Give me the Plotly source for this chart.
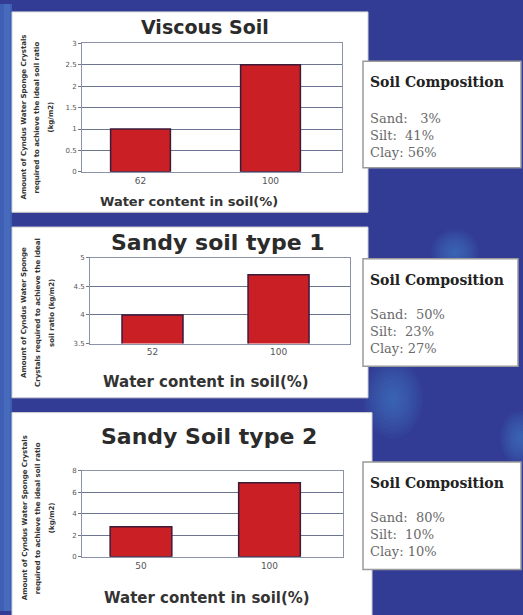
import plotly.graph_objects as go

W, H = 523, 615

# ---- data ----
titles = ["Viscous Soil", "Sandy soil type 1", "Sandy Soil type 2"]
viscous_x = ["62", "100"]
viscous_y = [1.0, 2.5]
sandy1_x = ["52", "100"]
sandy1_y = [4.0, 4.7]
sandy2_x = ["50", "100"]
sandy2_y = [2.8, 6.9]
y_ranges = [[0, 3], [3.5, 5], [0, 8]]
y_dticks = [0.5, 0.5, 2]
sand_pct = [3, 50, 80]
silt_pct = [41, 23, 10]
clay_pct = [56, 27, 10]
x_title = "Water content in soil(%)"
y_title_lines = [
    ["Amount of Cyndus Water Sponge Crystals", "required to achieve the ideal soil ratio", "(kg/m2)"],
    ["Amount of Cyndus Water Sponge", "Crystals required to achieve the ideal", "soil ratio (kg/m2)"],
    ["Amount of Cyndus Water Sponge Crystals", "required to achieve the ideal soil ratio", "(kg/m2)"],
]


def px(x):
    return x / W


def py(y):
    return 1 - y / H


fig = go.Figure()

# layout geometry (pixels)
plot_boxes = [(82, 342, 40, 170), (90, 350, 257, 344), (82, 343, 473, 560)]
x_ranges = [[-0.45, 1.55], [-0.496, 1.567], [-0.459, 1.572]]
bar_widths = [0.46, 0.484, 0.48]
xs = [viscous_x, sandy1_x, sandy2_x]
ys = [viscous_y, sandy1_y, sandy2_y]

for i in range(3):
    sfx = "" if i == 0 else str(i + 1)
    fig.add_trace(go.Bar(
        x=xs[i], y=ys[i], width=bar_widths[i],
        marker=dict(color="#c91f25", line=dict(color="#3c1a3a", width=1.5)),
        xaxis="x" + sfx, yaxis="y" + sfx, showlegend=False, hoverinfo="x+y",
    ))
    x0, x1, y0, y1 = plot_boxes[i]
    fig.layout["xaxis" + sfx] = dict(
        domain=[px(x0), px(x1)], anchor="y" + sfx, type="category",
        range=x_ranges[i], showgrid=False, zeroline=False,
        showline=True, linecolor="#8a93a8", mirror=True, linewidth=1,
        ticks="", tickfont=dict(family="DejaVu Sans", size=9, color="#555"),
        fixedrange=True,
    )
    fig.layout["yaxis" + sfx] = dict(
        domain=[py(y1), py(y0)], anchor="x" + sfx, range=y_ranges[i],
        dtick=y_dticks[i], showgrid=True, gridcolor="#6b7590", gridwidth=1,
        zeroline=False, showline=True, linecolor="#8a93a8", mirror=True,
        ticks="outside", ticklen=3, tickcolor="#777",
        tickfont=dict(family="DejaVu Sans", size=7, color="#555"),
        fixedrange=True,
    )

shapes = []
# left light strip
shapes.append(dict(type="rect", xref="paper", yref="paper", x0=0, x1=px(12), y0=0, y1=1,
                   fillcolor="#3f5fb4", line=dict(width=0), layer="below"))
shapes.append(dict(type="rect", xref="paper", yref="paper", x0=px(4), x1=px(10), y0=0, y1=1,
                   fillcolor="#4a70c0", opacity=0.7, line=dict(width=0), layer="below"))
# soft glows
for cx, cy, rx, ry in [(455, 252, 24, 24), (393, 400, 30, 40), (520, 440, 20, 28)]:
    n = 10
    for k in range(n):
        f = 1 - k / n
        shapes.append(dict(type="circle", xref="paper", yref="paper",
                           x0=px(cx - rx * f), x1=px(cx + rx * f),
                           y0=py(cy + ry * f), y1=py(cy - ry * f),
                           fillcolor="#4a8ad0", opacity=0.07, line=dict(width=0), layer="below"))
# white panels
for x0, x1, y0, y1 in [(12, 368, 8, 211), (12, 368, 226, 399), (12, 372, 414, 620)]:
    shapes.append(dict(type="rect", xref="paper", yref="paper", x0=px(x0), x1=px(x1),
                       y0=py(y1), y1=py(y0), fillcolor="white",
                       line=dict(color="#d0d0d0", width=1), layer="below"))
# composition boxes
comp_boxes = [(363, 521, 58, 166), (363, 518, 258, 367), (363, 521, 464, 573)]
for x0, x1, y0, y1 in comp_boxes:
    shapes.append(dict(type="rect", xref="paper", yref="paper", x0=px(x0), x1=px(x1),
                       y0=py(y1), y1=py(y0), fillcolor="white",
                       line=dict(color="#9a9a9a", width=1.5), layer="below"))
fig.update_layout(shapes=shapes)

ann = []
title_pos = [(205, 23, 19), (218, 242, 22), (209, 438, 22)]
xt_pos = [(189, 200, 13), (206, 383, 15), (207, 602, 15)]
yt_pos = [(115, [24, 37, 51]), (313, [24, 38, 52]), (521, [25, 38, 52])]
for i in range(3):
    tx, ty, ts = title_pos[i]
    ann.append(dict(x=px(tx), y=py(ty), xref="paper", yref="paper", text="<b>%s</b>" % titles[i],
                    showarrow=False, xanchor="center", yanchor="middle",
                    font=dict(family="DejaVu Sans", size=ts, color="#2b2b2b")))
    ax_, ay_, as_ = xt_pos[i]
    ann.append(dict(x=px(ax_), y=py(ay_), xref="paper", yref="paper", text="<b>%s</b>" % x_title,
                    showarrow=False, xanchor="center", yanchor="middle",
                    font=dict(family="DejaVu Sans", size=as_, color="#333")))
    cy, cxs = yt_pos[i]
    for line, cx in zip(y_title_lines[i], cxs):
        ann.append(dict(x=px(cx), y=py(cy), xref="paper", yref="paper", text="<b>%s</b>" % line,
                        showarrow=False, xanchor="center", yanchor="middle", textangle=-90,
                        font=dict(family="DejaVu Sans", size=7, color="#333")))

comp_text_y = [(79, 133), (280, 332), (485, 537)]
for i in range(3):
    hy, my = comp_text_y[i]
    ann.append(dict(x=px(368), y=py(hy), xref="paper", yref="paper", text="<b>Soil Composition</b>",
                    showarrow=False, xanchor="left", yanchor="middle",
                    font=dict(family="DejaVu Serif", size=14, color="#222")))
    rows = []
    for lbl, val in [("Sand:", sand_pct[i]), ("Silt:", silt_pct[i]), ("Clay:", clay_pct[i])]:
        gap = "&nbsp;" * (3 if val < 10 else 2 if lbl != "Clay:" else 1)
        rows.append("%s%s%s%%" % (lbl, gap, val))
    ann.append(dict(x=px(368), y=py(my), xref="paper", yref="paper",
                    text="<br>".join(rows), align="left",
                    showarrow=False, xanchor="left", yanchor="middle",
                    font=dict(family="DejaVu Serif", size=13, color="#6a6a6a")))

fig.update_layout(
    annotations=ann,
    width=W, height=H, margin=dict(l=0, r=0, t=0, b=0),
    paper_bgcolor="#323c94", plot_bgcolor="#b9c8e8",
    bargap=0.5, showlegend=False,
)

fig.write_html("out.html", config={"displayModeBar": False},
               post_script="document.body.style.margin='0';document.body.style.padding='0';")
